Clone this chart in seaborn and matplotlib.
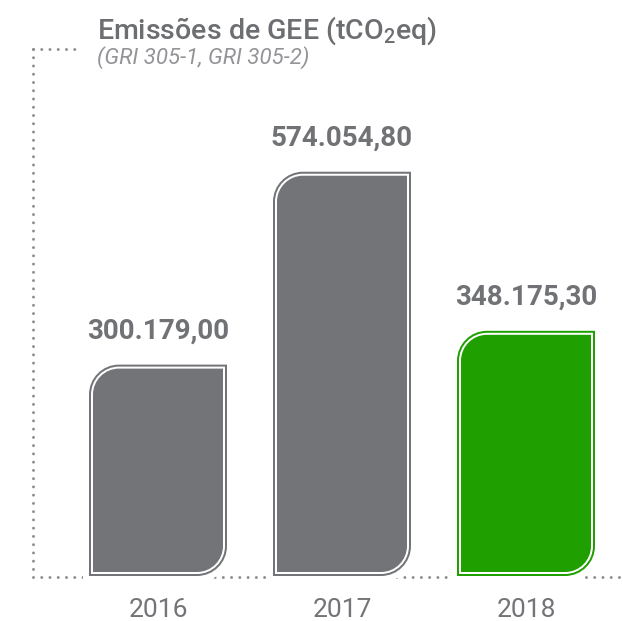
import numpy as np
import pandas as pd
import matplotlib
matplotlib.use("Agg")
import matplotlib.pyplot as plt
import seaborn as sns
from matplotlib.path import Path
from matplotlib.patches import PathPatch
from matplotlib.lines import Line2D
from matplotlib.transforms import IdentityTransform

# ---- data ----
years = ["2016", "2017", "2018"]
values = [300179.00, 574054.80, 348175.30]
value_labels = ["300.179,00", "574.054,80", "348.175,30"]
bar_colors = ["#737478", "#737478", "#1f9f00"]
title_text = "Emissões de GEE (tCO$_\\mathregular{2}$eq)"
subtitle_text = "(GRI 305-1, GRI 305-2)"

# ---- style ----
sns.set_theme(style="white")
plt.rcParams['font.family'] = ['Roboto', 'DejaVu Sans']
plt.rcParams['mathtext.fontset'] = 'custom'
plt.rcParams['mathtext.rm'] = 'Roboto:medium'

W, H, DPI = 623, 621, 100
fig = plt.figure(figsize=(W / DPI, H / DPI), dpi=DPI)
base_px = 576  # baseline, pixels from top
ax = fig.add_axes([0, (H - base_px) / H, 1, base_px / H])

df = pd.DataFrame({"year": years, "value": values})
sns.barplot(data=df, x="year", y="value", hue="year", palette=bar_colors,
            width=0.75, saturation=1, legend=False, ax=ax)

ax.set_ylim(0, base_px * 1420)
ax.set_xlim(-158 / 184, (W - 158) / 184)
for s in ax.spines.values():
    s.set_visible(False)
ax.set_yticks([])
ax.set_xlabel("")
ax.set_ylabel("")
ax.tick_params(axis="x", length=0, pad=16, labelsize=19, labelcolor="#737477")

px = 72 / DPI  # points per pixel
dot_color = "#8c8d90"
dot_style = dict(color=dot_color, lw=3 * px, linestyle=(0, (0.001, 2.75)),
                 dash_capstyle="round", clip_on=False, transform=IdentityTransform())


def fy(ytop):
    return H - ytop


ax.add_line(Line2D([33, 33], [fy(49), fy(base_px + 1)], zorder=1, **dot_style))
ax.add_line(Line2D([33, 81], [fy(49), fy(49)], zorder=1, **dot_style))
ax.add_line(Line2D([33, W + 5], [fy(base_px + 1), fy(base_px + 1)], zorder=1, **dot_style))


def shape(x0, y0, x1, y1, r):
    k = 0.5523
    verts = [(x0, y0), (x0, y1 - r),
             (x0, y1 - r + k * r), (x0 + r - k * r, y1), (x0 + r, y1),
             (x1, y1), (x1, y0 + r),
             (x1, y0 + r - k * r), (x1 - r + k * r, y0), (x1 - r, y0),
             (x0, y0), (x0, y0)]
    codes = [Path.MOVETO, Path.LINETO,
             Path.CURVE4, Path.CURVE4, Path.CURVE4,
             Path.LINETO, Path.LINETO,
             Path.CURVE4, Path.CURVE4, Path.CURVE4,
             Path.LINETO, Path.CLOSEPOLY]
    return Path(verts, codes)


patches = sorted(ax.patches, key=lambda p: p.get_x())
R = 30
for p, col, lab in zip(patches, bar_colors, value_labels):
    p.set_visible(False)
    x, w, h = p.get_x(), p.get_width(), p.get_height()
    (X0, Y0) = ax.transData.transform((x, 0))
    (X1, Y1) = ax.transData.transform((x + w, h))
    tr = IdentityTransform()
    ax.add_patch(PathPatch(shape(X0, Y0, X1, Y1, R), facecolor="white",
                           edgecolor="white", lw=12 * px, transform=tr,
                           clip_on=False, zorder=2))
    ax.add_patch(PathPatch(shape(X0 + 1, Y0 + 1, X1 - 1, Y1 - 1, R - 1),
                           facecolor="white", edgecolor=col, lw=2 * px,
                           transform=tr, clip_on=False, zorder=3))
    ax.add_patch(PathPatch(shape(X0 + 4, Y0 + 4, X1 - 4, Y1 - 4, R - 4),
                           facecolor=col, edgecolor="none", transform=tr,
                           clip_on=False, zorder=4))
    ax.annotate(lab, xy=(x + w / 2, h), xytext=(0, 26 * px),
                textcoords="offset points", ha="center", va="baseline",
                fontsize=20, fontweight="bold", color="#717276", zorder=5)

fig.text(97 / W, (H - 39) / H, title_text, fontsize=20.5, fontweight="medium",
         color="#6d6e71", ha="left", va="baseline")
fig.text(97 / W, (H - 64) / H, subtitle_text, fontsize=16, fontweight="normal",
         style="italic", color="#939497", ha="left", va="baseline")

fig.savefig("out.png", dpi=DPI)
